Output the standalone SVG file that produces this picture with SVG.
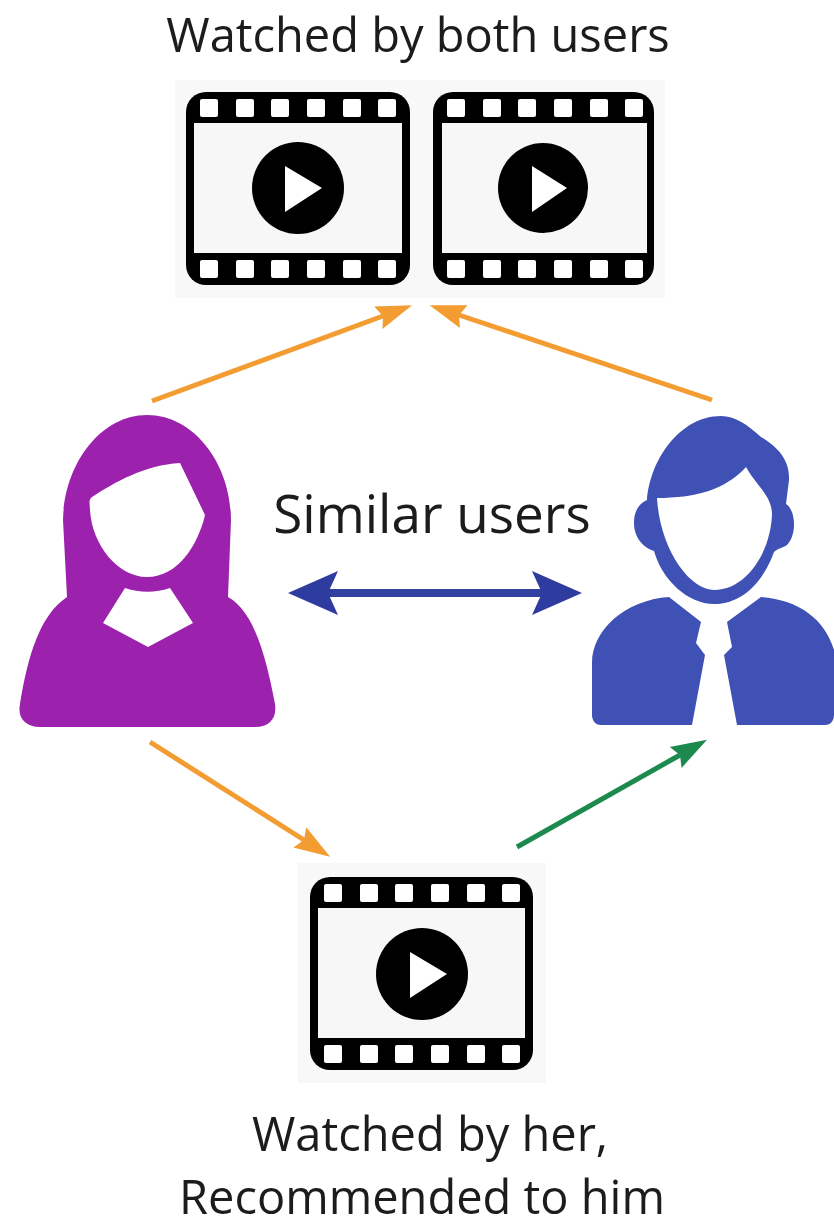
<svg xmlns="http://www.w3.org/2000/svg" width="834" height="1221" viewBox="0 0 834 1221">
<style>
text{font-family:"Open Sans","Liberation Sans",sans-serif;font-size:47px;fill:#1a1a1a;text-anchor:middle}
.bg{fill:#f8f8f8}
.hole{fill:#fff}
.a{fill:none;stroke-width:5}
.o{stroke:#f29c33}.g{stroke:#1c8a4e}.b{stroke:#303f9f;stroke-width:8}
.f{fill:#000}.s{fill:#f7f7f7}
</style>
<defs>
<filter id="soft" x="0" y="0" width="834" height="1221" filterUnits="userSpaceOnUse"><feGaussianBlur stdDeviation="0.7"/></filter>
<marker id="ao" markerUnits="userSpaceOnUse" markerWidth="38" markerHeight="26" refX="5" refY="13" orient="auto"><path d="M0 1L36 13L0 25L5 13Z" fill="#f29c33"/></marker>
<marker id="ag" markerUnits="userSpaceOnUse" markerWidth="38" markerHeight="26" refX="5" refY="13" orient="auto"><path d="M0 1L36 13L0 25L5 13Z" fill="#1c8a4e"/></marker>
<marker id="ab" markerUnits="userSpaceOnUse" markerWidth="52" markerHeight="46" refX="10" refY="23" orient="auto-start-reverse"><path d="M0 1L50 23L0 45L10 23Z" fill="#2f3a9f"/></marker>
<g id="holes"><rect class="hole" x="-9" y="-9" width="18" height="18" rx="2"/><rect class="hole" x="27" y="-9" width="18" height="18" rx="2"/><rect class="hole" x="62" y="-9" width="18" height="18" rx="2"/><rect class="hole" x="98" y="-9" width="18" height="18" rx="2"/><rect class="hole" x="134" y="-9" width="18" height="18" rx="2"/><rect class="hole" x="169" y="-9" width="18" height="18" rx="2"/></g>
</defs>
<rect width="834" height="1221" fill="#fff"/>
<g filter="url(#soft)">
<g id="top-label"><text x="418" y="52">Watched by both users</text></g>
<g id="watched-both">
<rect class="bg" x="175" y="80" width="490" height="218"/>
<g id="film-1">
<rect class="f" x="186" y="92" width="224" height="193" rx="20"/>
<rect class="s" x="194" y="123" width="208" height="130"/>
<use href="#holes" x="209" y="108"/><use href="#holes" x="209" y="269"/>
<circle class="f" cx="298" cy="188" r="46"/><path class="hole" d="M285 166L322 188L285 212Z"/>
</g>
<g id="film-2">
<rect class="f" x="433" y="92" width="221" height="193" rx="20"/>
<rect class="s" x="442" y="123" width="205" height="130"/>
<use href="#holes" x="456" y="108"/><use href="#holes" x="456" y="269"/>
<circle class="f" cx="543" cy="188" r="45"/><path class="hole" d="M532 166L567 188L532 212Z"/>
</g>
</g>
<g id="woman">
<path fill="#9c24ad" fill-rule="evenodd" d="M147 415C195 415 231 465 231 520L228 597C252 610 265 650 275 704C277 718 270 727 255 727H40C26 727 17 718 20 704C28 655 40 615 67 597L63 520C64 465 100 415 147 415ZM92 497C88 500 90 505 90 510C92 545 118 577 147 577C178 577 198 545 205 515L180 463C145 465 115 482 92 497ZM125 588L103 623L148 647L193 623L170 588C155 593 140 593 125 588Z"/>
</g>
<g id="man" fill="#3f51b5">
<path fill-rule="evenodd" d="M721 416C735 416 748 425 761 437C778 447 790 460 789 480L786 504C796 510 797 535 787 545C783 548 778 548 774 552C762 585 740 604 714 604C688 604 662 580 654 551C644 548 634 538 634 523C634 510 640 503 647 500C650 460 680 416 721 416ZM657 498C695 498 725 490 746 467C757 487 772 495 772 515C770 555 745 590 714 590C690 590 660 550 657 498Z"/>
<path d="M669 597L701 622L696 643L705 655L692 725H601C595 725 592 720 592 715V663C592 630 625 600 669 597Z"/>
<path d="M761 597L727 622L732 647L724 655L737 725H825C831 725 834 720 834 715V650C825 620 800 600 761 597Z"/>
</g>
<g id="similar-label"><text x="432" y="533" style="font-size:53px">Similar users</text></g>
<g id="connectors">
<line class="a o" x1="152" y1="401" x2="383" y2="316" marker-end="url(#ao)"/>
<line class="a o" x1="712" y1="400" x2="459" y2="315" marker-end="url(#ao)"/>
<line class="a b" x1="328" y1="593" x2="542" y2="593" marker-start="url(#ab)" marker-end="url(#ab)"/>
<line class="a o" x1="150" y1="742" x2="304" y2="840" marker-end="url(#ao)"/>
<line class="a g" x1="517" y1="847" x2="680" y2="755" marker-end="url(#ag)"/>
</g>
<g id="watched-her">
<rect class="bg" x="298" y="863" width="248" height="220"/>
<g id="film-3">
<rect class="f" x="310" y="877" width="223" height="193" rx="20"/>
<rect class="s" x="318" y="908" width="207" height="130"/>
<use href="#holes" x="333" y="893"/><use href="#holes" x="333" y="1054"/>
<circle class="f" cx="422" cy="974" r="46"/><path class="hole" d="M410 952L447 974L410 998Z"/>
</g>
</g>
<g id="bottom-label"><text x="430" y="1151">Watched by her,</text><text x="422" y="1214">Recommended to him</text></g>
</g>
</svg>
